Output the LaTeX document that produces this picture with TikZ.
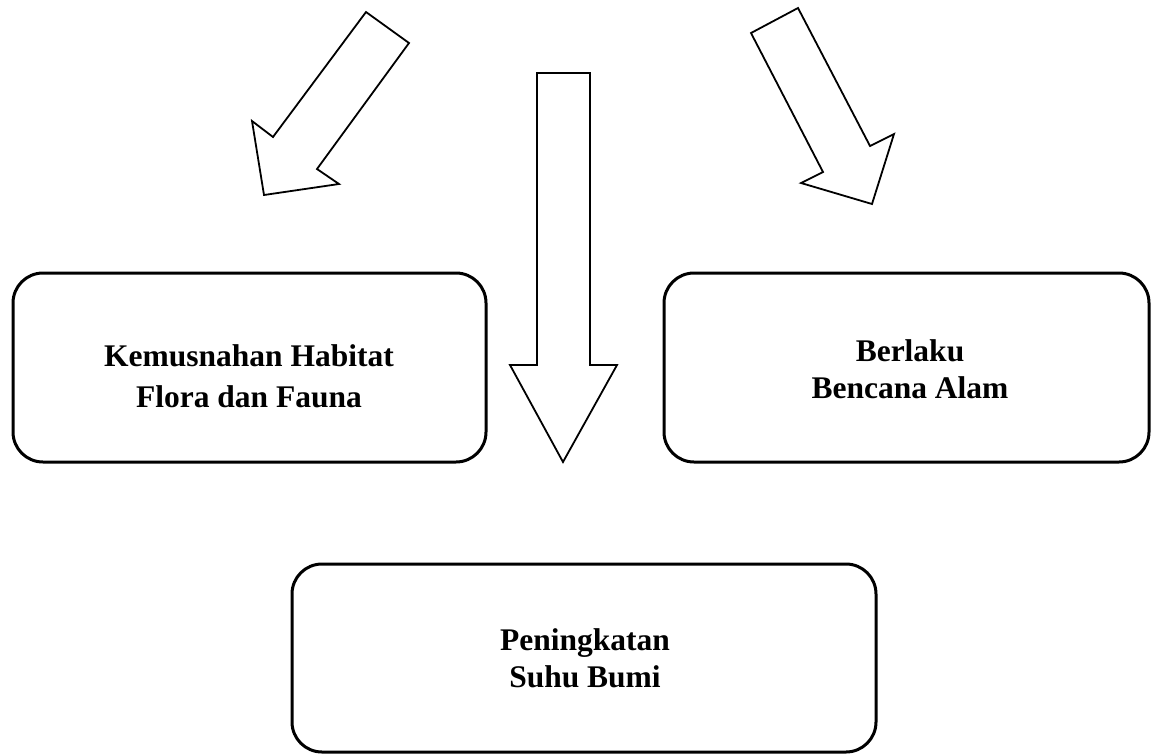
\documentclass[tikz,border=0pt]{standalone}
\usepackage{fontspec}
\setmainfont{Liberation Serif}
\begin{document}
\begin{tikzpicture}[x=1pt,y=-1pt,
  box/.style={draw, line width=3pt, rounded corners=30pt, inner sep=0pt},
  blockarrow/.style={draw, line width=1.8pt, line join=miter, fill=white},
  lbl/.style={font=\fontsize{31.5}{37}\selectfont\bfseries, anchor=base, inner sep=0pt}]
\useasboundingbox (0,0) rectangle (1151,753);
% boxes
\node[box, minimum width=473pt, minimum height=189pt] (L) at (249.5,367.5) {};
\node[box, minimum width=485pt, minimum height=189pt] (R) at (906.5,367.5) {};
\node[box, minimum width=584pt, minimum height=188pt] (B) at (584,658) {};
% labels
\node[lbl] (L1) at (249,366.5) {Kemusnahan Habitat};
\node[lbl] (L2) at (249,407.5) {Flora dan Fauna};
\node[lbl] (R1) at (910,361) {Berlaku};
\node[lbl] (R2) at (910,398) {Bencana Alam};
\node[lbl] (B1) at (585,650) {Peningkatan};
\node[lbl] (B2) at (585,687) {Suhu Bumi};
% left block arrow
\draw[blockarrow] (366,12) -- (409,43) -- (317,169) -- (339,184) -- (264,195) -- (252,121) -- (273,137) -- cycle;
% right block arrow
\draw[blockarrow] (751,33) -- (798,8) -- (870,146) -- (894,134) -- (872,204) -- (801,183) -- (823,172) -- cycle;
% centre block arrow
\draw[blockarrow] (537,73) -- (590,73) -- (590,365) -- (617,365) -- (563,462) -- (510,365) -- (537,365) -- cycle;
\end{tikzpicture}
\end{document}
